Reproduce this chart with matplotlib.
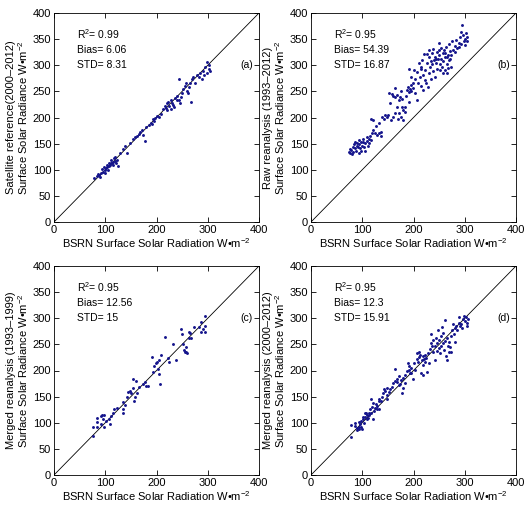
import matplotlib
matplotlib.use("Agg")
import matplotlib.pyplot as plt

plt.rcParams['font.family'] = ['Liberation Sans', 'DejaVu Sans']
plt.rcParams['mathtext.fontset'] = 'custom'
plt.rcParams['mathtext.rm'] = 'Liberation Sans'
plt.rcParams['mathtext.it'] = 'Liberation Sans:italic'
plt.rcParams['mathtext.bf'] = 'Liberation Sans:bold'

# ---------------- data ----------------
a_x = [78, 83.3, 88.5, 92.4, 95, 89.8, 98.9, 101.5, 104, 106.7, 109.3, 110.6, 113.2, 115.8, 118.4,
       121, 124.9, 97.6, 93.7, 102.8, 108, 111.9, 117.1, 105.4, 100.2, 85.9, 119.7, 114.5, 122.3,
       128.8, 135.3, 139.2, 143, 148.3, 154.8, 158.7, 161.3, 165.2, 167.8, 171.7, 174.3, 176.9,
       179.5, 184.7, 189.9, 192.5, 195.1, 191.2, 197.7, 205.5, 209.4, 213.3, 215.9, 218.5, 219.8,
       222.4, 225, 221.1, 227.6, 228.9, 231.5, 234.1, 236.7, 240.6, 243.2, 244.5, 247.1, 249.7,
       252.3, 255, 257.6, 258.9, 261.5, 264.1, 265.4, 268, 269.3, 271.9, 275.8, 278.4, 282.3,
       284.9, 288.8, 291.4, 295.3, 297.9, 299.2, 301.8, 303.1, 304.4, 292.7, 240.6, 245.8, 230.2,
       200.3]
a_y = [83.6, 88, 90, 93, 96, 86.8, 99.5, 102.7, 104.6, 107, 109, 113.6, 112.3, 114.8, 117.4,
       112.3, 107, 105.9, 100.8, 109, 113.6, 118.7, 121.9, 99.5, 94.4, 91.9, 123.8, 109, 118.7,
       131.4, 140.4, 145.5, 132.7, 150.6, 158.2, 162, 164.6, 168.4, 172.3, 176, 165.9, 155.7,
       181.2, 185, 190.1, 196.5, 194, 187.6, 199, 201.6, 206.7, 215.6, 222, 218.2, 227.1,
       229.7, 222, 214.4, 233.5, 215.6, 223.3, 219.5, 237.3, 241.2, 274.3, 233.5, 239.9, 246.3,
       253.9, 260.3, 265.4, 250.1, 246.3, 257.7, 266.7, 229.7, 273, 278.2, 265.4, 282, 276.9,
       285.8, 273, 289.6, 296, 306.2, 284.5, 293.5, 301.1, 288.4, 280.7, 233.5, 227.1, 227.1,
       202.9]

b_x = [76.1, 78.7, 76.1, 81.3, 83.9, 82.6, 86.5, 89.1, 90.4, 93, 94.3, 95.6, 96.9, 99.5, 100.8,
       102.1, 103.4, 106, 108.6, 109.9, 112.5, 113.8, 115.1, 117.7, 119, 121.6, 120.3, 116.4,
       124.2, 126.8, 129.4, 133.3, 136, 137.3, 85.2, 91.7, 98.2, 87.8, 104.7, 111.2, 80, 74.8,
       94.3, 133.3, 138.5, 142.5, 145.1, 147.7, 150.3, 154.2, 152.9, 158, 160.7, 163.3, 164.6,
       167.2, 171.1, 173.7, 175, 177.6, 180.2, 176.3, 182.8, 184.1, 160.7, 164.6, 169.8, 155.5,
       186.7, 189.3, 190.6, 191.9, 193.2, 194.5, 195.8, 198.4, 199.7, 201, 202.3, 203.6, 206.2,
       207.5, 208.8, 210.1, 212.7, 214, 215.3, 216.6, 217.9, 219.2, 220.5, 221.8, 223.1, 224.4,
       227, 228.3, 229.6, 230.9, 232.2, 233.5, 234.8, 236.1, 237.4, 238.7, 240, 241.3, 242.6,
       243.9, 245.2, 246.5, 247.8, 249.1, 250.4, 251.7, 253, 254.3, 255.6, 256.9, 258.2, 259.5,
       260.8, 262.1, 263.4, 264.7, 266, 267.3, 268.6, 269.9, 271.2, 272.5, 275.1, 277.7, 280.3,
       283, 285.5, 288.2, 290.8, 292.1, 293.4, 294.7, 296, 298.5, 301.2, 302.5, 303.8, 305.1,
       299.9, 289.5, 281.6, 273.8, 236.1, 227, 215.3, 230.9, 250.4, 260.8, 264.7, 271.2, 243.9,
       251.7, 258.2, 267.3, 195.8, 185.4, 177.6, 168.5, 172.4, 180.2, 190.6]
b_y = [132.7, 137.8, 139.1, 144.2, 149.3, 134.6, 141, 145.4, 151.8, 156.9, 149.3, 141, 136.5,
       145.4, 153.1, 158.2, 144.2, 150.5, 155.6, 162, 151.8, 158.2, 164.6, 156.9, 171, 176,
       195.2, 196.5, 169.7, 183.7, 166.5, 169.7, 164.6, 172.9, 153.7, 142.9, 153.7, 136.5, 136.5,
       145.4, 130.1, 134.6, 131.4, 190.1, 201.6, 197.8, 204.1, 200.3, 205.4, 227.1, 246.2, 245,
       241.1, 255.8, 238.6, 242.4, 233.5, 238.6, 251.3, 219.4, 214.3, 201.6, 210.5, 219.4,
       201.6, 208, 197.8, 195.2, 252.6, 259, 248.8, 293.4, 255.2, 261.6, 251.3, 265.4, 256.4,
       290.9, 273, 247.5, 233.5, 287.1, 265.4, 303.7, 276.9, 296, 260.3, 310, 282, 252.6, 321.5,
       271.8, 290.9, 266.7, 303.7, 259, 284.5, 316.4, 297.3, 273, 307.5, 322.8, 289.6, 330.5,
       310, 278.2, 315.1, 303.7, 325.4, 293.4, 311.3, 342, 319, 302.4, 333, 311.3, 297.3, 322.8,
       307.5, 329.2, 290.9, 316.4, 334.3, 302.4, 284.5, 320.2, 340.7, 310, 326.6, 297.3, 345.8,
       329.2, 336.8, 348.3, 333, 342, 353.4, 363.6, 340.7, 376.4, 357.2, 347, 350.9, 361, 345.8,
       353.4, 338.1, 335.6, 325.4, 319, 302.4, 321.5, 292.2, 329.2, 329.2, 324.1, 315.1, 311.3,
       311.3, 290.9, 284.5, 294.7, 278.2, 241.1, 236, 220.7, 208, 195.2, 229.7]

c_x = [75.4, 76.7, 83, 83, 84.5, 91, 93.6, 97.5, 95, 92.3, 97.5, 101, 108, 109, 112, 115.7, 118,
       122, 134, 135, 135, 138, 142, 144, 148, 149.5, 153.5, 154.8, 156, 157.4, 160, 162.6, 166.5,
       173, 177, 179.5, 183.4, 191, 192.5, 195, 199, 200.3, 204, 206.8, 209.4, 205.5, 203, 216,
       222.4, 225, 231.5, 239, 248.4, 249.7, 252, 253.6, 255, 257.5, 257.5, 260, 262.7, 264,
       266.6, 265, 274, 283, 286, 287.5, 291.4, 294, 295, 295]
c_y = [75, 92.7, 92.7, 110, 101.6, 113, 114, 114, 107, 97, 92.7, 103, 107, 97, 112, 118, 125.7,
       128, 140, 125.7, 118, 134, 150, 158.7, 161, 156, 167, 184, 141, 150, 180, 157.5, 169, 174,
       178, 170, 170, 226, 198, 209, 214, 216, 221, 174, 230, 193, 203, 264, 224.8, 217, 250, 221,
       279, 270.5, 250, 238.7, 236, 235, 245, 233.6, 263, 273, 263, 272, 283, 283, 274, 292,
       279, 284.5, 303.5, 273]

d_x = [78.7, 78.7, 85.2, 86.5, 89.1, 90.4, 93, 94.3, 95.6, 96.9, 98.2, 99.5, 100.8, 102.1, 103.4,
       106, 107.3, 108.6, 109.9, 111.2, 112.5, 113.8, 115.1, 116.4, 117.7, 119, 120.3, 121.6,
       122.9, 124.2, 126.8, 128.1, 129.4, 132, 133.3, 136, 138.5, 141.2, 142.5, 145.1, 147.7,
       149, 151.6, 154.2, 158, 160.7, 163.3, 164.6, 167.2, 168.5, 171.1, 172.4, 173.7, 175,
       177.6, 178.9, 180.2, 182.8, 184.1, 188, 189.3, 190.6, 191.9, 193.2, 194.5, 195.8, 199.7,
       201, 206.2, 207.5, 208.8, 210.1, 211.4, 212.7, 215.3, 216.6, 217.9, 219.2, 220.5, 221.8,
       223.1, 224.4, 227, 228.3, 230.9, 232.2, 233.5, 234.8, 236.1, 237.4, 238.7, 241.3, 242.6,
       243.9, 245.2, 246.5, 247.8, 249.1, 250.4, 251.7, 253, 254.3, 255.6, 256.9, 258.2, 259.5,
       260.8, 262.1, 263.4, 264.7, 266, 267.3, 268.6, 269.9, 271.2, 273.8, 275.1, 276.4, 279,
       280.3, 283, 285.5, 288.2, 289.5, 290.8, 292.1, 294.7, 296, 298.5, 299.9, 302.5, 303.8,
       305.1, 306.4, 281.6, 272.5, 219.2, 203.6, 147.7, 132, 104.7, 93]
d_y = [73.6, 96.5, 93.9, 99, 90.8, 86.3, 92.7, 87.6, 97.1, 92.7, 103.5, 88.9, 111.7, 106.7, 100.3,
       111.7, 119.4, 108, 114.3, 109.8, 118.1, 114.3, 125.7, 144.8, 119.4, 130.8, 106.7, 138.4,
       122.5, 128.2, 135.2, 125.7, 132, 140.9, 146, 141.6, 149.8, 156.2, 163.8, 161.3, 152.4,
       166.3, 158.7, 163.8, 168.9, 175.2, 203.2, 180.3, 184.1, 177.8, 189.2, 171.4, 174, 181.6,
       156.2, 166.3, 185.4, 191.7, 176.5, 198.1, 214.6, 209.5, 201.9, 194.3, 204.4, 195.5, 182.9,
       214.6, 222.2, 233.7, 217.1, 234.9, 226, 229.8, 195.5, 221, 227.3, 191.7, 222.2, 229.8,
       215.9, 224.8, 196.8, 233.7, 214.6, 241.3, 252.7, 270.5, 247.6, 234.9, 257.8, 221, 246.4,
       262.9, 237.5, 252.7, 276.8, 242.5, 257.8, 233.7, 265.4, 247.6, 283.2, 252.7, 271.7, 240,
       256.5, 297.1, 227.3, 221, 262.9, 247.6, 236.2, 255.2, 245.1, 234.9, 278.1, 289.5, 270.5,
       281.9, 285.7, 278.1, 290.8, 302.2, 284.5, 288.3, 280.6, 298.4, 304.8, 294.6, 302.2, 290.8,
       285.7, 298.4, 254, 265.4, 210.8, 201.9, 146, 125.7, 119.4, 101.6]

panels = [
    dict(x=a_x, y=a_y, tag='(a)', r2='0.99', bias='6.06', std='8.31',
         ylab='Satellite reference(2000\u20132012)'),
    dict(x=b_x, y=b_y, tag='(b)', r2='0.95', bias='54.39', std='16.87',
         ylab='Raw reanalysis (1993\u20132012)'),
    dict(x=c_x, y=c_y, tag='(c)', r2='0.95', bias='12.56', std='15',
         ylab='Merged reanalysis (1993\u20131999)'),
    dict(x=d_x, y=d_y, tag='(d)', r2='0.95', bias='12.3', std='15.91',
         ylab='Merged reanalysis (2000\u20132012)'),
]
ticks = [0, 100, 200, 300, 400]
yticks = [0, 50, 100, 150, 200, 250, 300, 350, 400]

W, H = 529, 519
fig = plt.figure(figsize=(W / 100, H / 100), dpi=100)
boxes = [(54, 13), (311, 13), (54, 266), (311, 266)]
aw, ah = 205, 209
fs = 8
for p, (lx, ty) in zip(panels, boxes):
    ax = fig.add_axes([lx / W, 1 - (ty + ah) / H, aw / W, ah / H])
    ax.plot([0, 400], [0, 400], color='black', lw=0.6)
    ax.plot(p['x'], p['y'], linestyle='none', marker='o', ms=2.1, mew=0,
            color='#14148c')
    ax.set_xlim(0, 400)
    ax.set_ylim(0, 400)
    ax.set_xticks(ticks)
    ax.set_yticks(yticks)
    ax.tick_params(direction='in', length=3.5, width=0.6, top=True, right=True,
                   labelsize=fs, pad=2)
    for s in ax.spines.values():
        s.set_linewidth(0.6)
    ax.set_xlabel('BSRN Surface Solar Radiation W\u2022m$^{-2}$', fontsize=fs, labelpad=1)
    ax.set_ylabel(p['ylab'] + '\nSurface Solar Radiance W\u2022m$^{-2}$', fontsize=fs,
                  labelpad=2, linespacing=1.05)
    ax.text(45, 360, 'R$^2$= ' + p['r2'], fontsize=fs - 0.5, va='center')
    ax.text(45, 330, 'Bias= ' + p['bias'], fontsize=fs - 0.5, va='center')
    ax.text(45, 300, 'STD= ' + p['std'], fontsize=fs - 0.5, va='center')
    ax.text(388, 300, p['tag'], fontsize=fs - 0.5, va='center', ha='right')

fig.savefig('out.png', dpi=100)
